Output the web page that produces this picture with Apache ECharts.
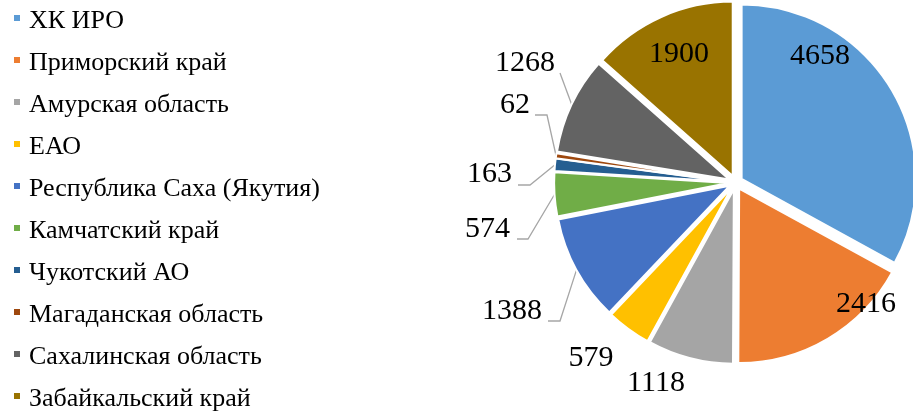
<!DOCTYPE html>
<html>
<head>
<meta charset="utf-8">
<script src="https://cdn.jsdelivr.net/npm/echarts@6/dist/echarts.min.js"></script>
<style>
  html, body { margin: 0; padding: 0; background: #fff; }
  #chart { width: 913px; height: 412px; }
</style>
</head>
<body>
<div id="chart"></div>
<script>
// Regions and their counts
const regions = [
  'ХК ИРО',
  'Приморский край',
  'Амурская область',
  'ЕАО',
  'Республика Саха (Якутия)',
  'Камчатский край',
  'Чукотский АО',
  'Магаданская область',
  'Сахалинская область',
  'Забайкальский край'
];
const counts = [4658, 2416, 1118, 579, 1388, 574, 163, 62, 1268, 1900];

const palette = ['#5B9BD5', '#ED7D31', '#A5A5A5', '#FFC000', '#4472C4',
                 '#70AD47', '#255E91', '#9E480E', '#636363', '#997300'];

const SERIF = '"Liberation Serif", "Times New Roman", serif';
const EXPLODE = 7;

// Where each value label sits: text centre (or right edge), and optional leader elbow/end
const labelSpots = {
  0: { at: [820, 56] },
  1: { at: [866, 304] },
  2: { at: [656, 383] },
  3: { at: [591, 358] },
  4: { at: [512, 311], right: 542, elbow: [560, 321], end: [548, 321] },
  5: { at: [488, 229], right: 510, elbow: [528, 239], end: [517, 239] },
  6: { at: [490, 174], right: 512, elbow: [530, 185], end: [518, 185] },
  7: { at: [515, 105], right: 530, elbow: [547, 115], end: [535, 115] },
  8: { at: [524, 63],  right: 555, elbow: [560, 73],  end: [560, 73] },
  9: { at: [679, 54] }
};

// Exploded slices carry their label along; work out that shift per slice
const total = counts.reduce((a, b) => a + b, 0);
const sliceShift = [];
let acc = 0;
counts.forEach(v => {
  const mid = (acc + v / 2) / total * Math.PI * 2;
  sliceShift.push([EXPLODE * Math.sin(mid), -EXPLODE * Math.cos(mid)]);
  acc += v;
});

const chart = echarts.init(document.getElementById('chart'), null, { renderer: 'canvas' });

const data = regions.map((name, i) => ({
  name,
  value: counts[i],
  selected: true,
  labelLine: { show: !!labelSpots[i].elbow }
}));

chart.setOption({
  animation: false,
  color: palette,
  legend: {
    orient: 'vertical',
    left: 12,
    top: 8,
    height: 420,
    padding: 0,
    // square marker sitting a little above the text's middle
    icon: 'path://M0,0H8V8H0Z M0,14H0.01V14.01H0Z',
    itemWidth: 8,
    itemHeight: 14,
    itemGap: 16,
    selectedMode: false,
    textStyle: {
      fontFamily: SERIF,
      fontSize: 26,
      lineHeight: 26,
      color: '#000',
      padding: [0, 0, 0, 3]
    },
    data: regions
  },
  series: [{
    type: 'pie',
    center: [735.6, 182.5],
    radius: 174.5,
    startAngle: 90,
    clockwise: true,
    selectedMode: 'multiple',
    selectedOffset: EXPLODE,
    avoidLabelOverlap: false,
    silent: true,
    itemStyle: { borderColor: '#fff', borderWidth: 2 },
    select: { itemStyle: { borderColor: '#fff', borderWidth: 2 } },
    label: {
      show: true,
      position: 'outside',
      fontFamily: SERIF,
      fontSize: 30,
      color: '#000',
      formatter: '{c}'
    },
    labelLine: {
      show: true,
      length: 20,
      length2: 10,
      lineStyle: { color: '#A6A6A6', width: 1.3 }
    },
    labelLayout: function (params) {
      const i = params.dataIndex;
      const spot = labelSpots[i];
      const s = sliceShift[i];
      const r = params.labelRect;
      const curX = r.x + r.width / 2;
      const curY = r.y + r.height / 2;
      const wantX = spot.right !== undefined ? spot.right - r.width / 2 : spot.at[0];
      const out = { dx: wantX - curX - s[0], dy: spot.at[1] - curY - s[1] };
      if (spot.elbow && params.labelLinePoints) {
        out.labelLinePoints = [
          params.labelLinePoints[0],
          [spot.elbow[0] - s[0], spot.elbow[1] - s[1]],
          [spot.end[0] - s[0], spot.end[1] - s[1]]
        ];
      }
      return out;
    },
    data: data
  }]
});
</script>
</body>
</html>
